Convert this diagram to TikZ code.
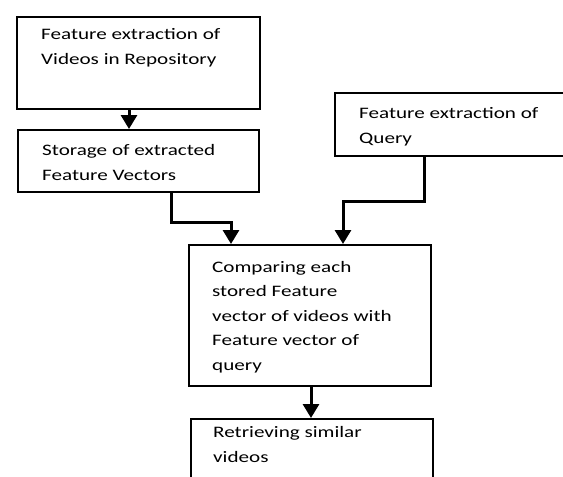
\documentclass[tikz,border=0pt]{standalone}
\usepackage{fontspec}
\setmainfont{Carlito}[FakeStretch=1.32]
\usetikzlibrary{arrows.meta}

\begin{document}
\begin{tikzpicture}[
		x=1pt, y=-1pt,
		box/.style={
			draw, line width=2pt, rectangle, anchor=north west,
			inner sep=0pt
		},
		txt/.style={
			anchor=base west, align=left, inner sep=0pt,
			font=\fontsize{16}{24.5}\selectfont
		},
		arr/.style={-{Triangle[width=16pt,length=14pt]}, line width=3pt},
		]
		
		\useasboundingbox (0,0) rectangle (563,477);
		\clip (0,0) rectangle (563,477);
		
		\node[box, minimum width=243pt, minimum height=92pt]  (repo)  at (16,16)   {};
		\node[box, minimum width=241pt, minimum height=62pt]  (store) at (17,129)  {};
		\node[box, minimum width=260pt, minimum height=63pt]  (query) at (334,92)  {};
		\node[box, minimum width=242pt, minimum height=141pt] (cmp)   at (188,244) {};
		\node[box, minimum width=242pt, minimum height=100pt] (ret)   at (190,418) {};
		
		% base of a text node is its last line
		\node[txt] (repotxt)  at (41,64)   {Feature extraction of\\Videos in Repository};
		\node[txt] (storetxt) at (42,180)  {Storage of extracted\\Feature Vectors};
		\node[txt] (querytxt) at (359,143) {Feature extraction of\\Query};
		\node[txt] (cmptxt)   at (212,370) {Comparing each\\stored Feature\\vector of videos with\\Feature vector of\\query};
		\node[txt] (rettxt)   at (213,462) {Retrieving similar\\videos};
		
		\draw[arr] ([xshift=-9.5pt]repo.south) -- ([xshift=-9.5pt]repo.south |- store.north);
		\draw[arr] ([xshift=32.5pt]store.south) -- ++(0,29) -| ([xshift=-79pt]cmp.north);
		\draw[arr] ([xshift=-41pt]query.south) -- ++(0,44) -| ([xshift=33pt]cmp.north);
		\draw[arr] ([xshift=1pt]cmp.south) -- ([xshift=1pt]cmp.south |- ret.north);
		
	\end{tikzpicture}
\end{document}
